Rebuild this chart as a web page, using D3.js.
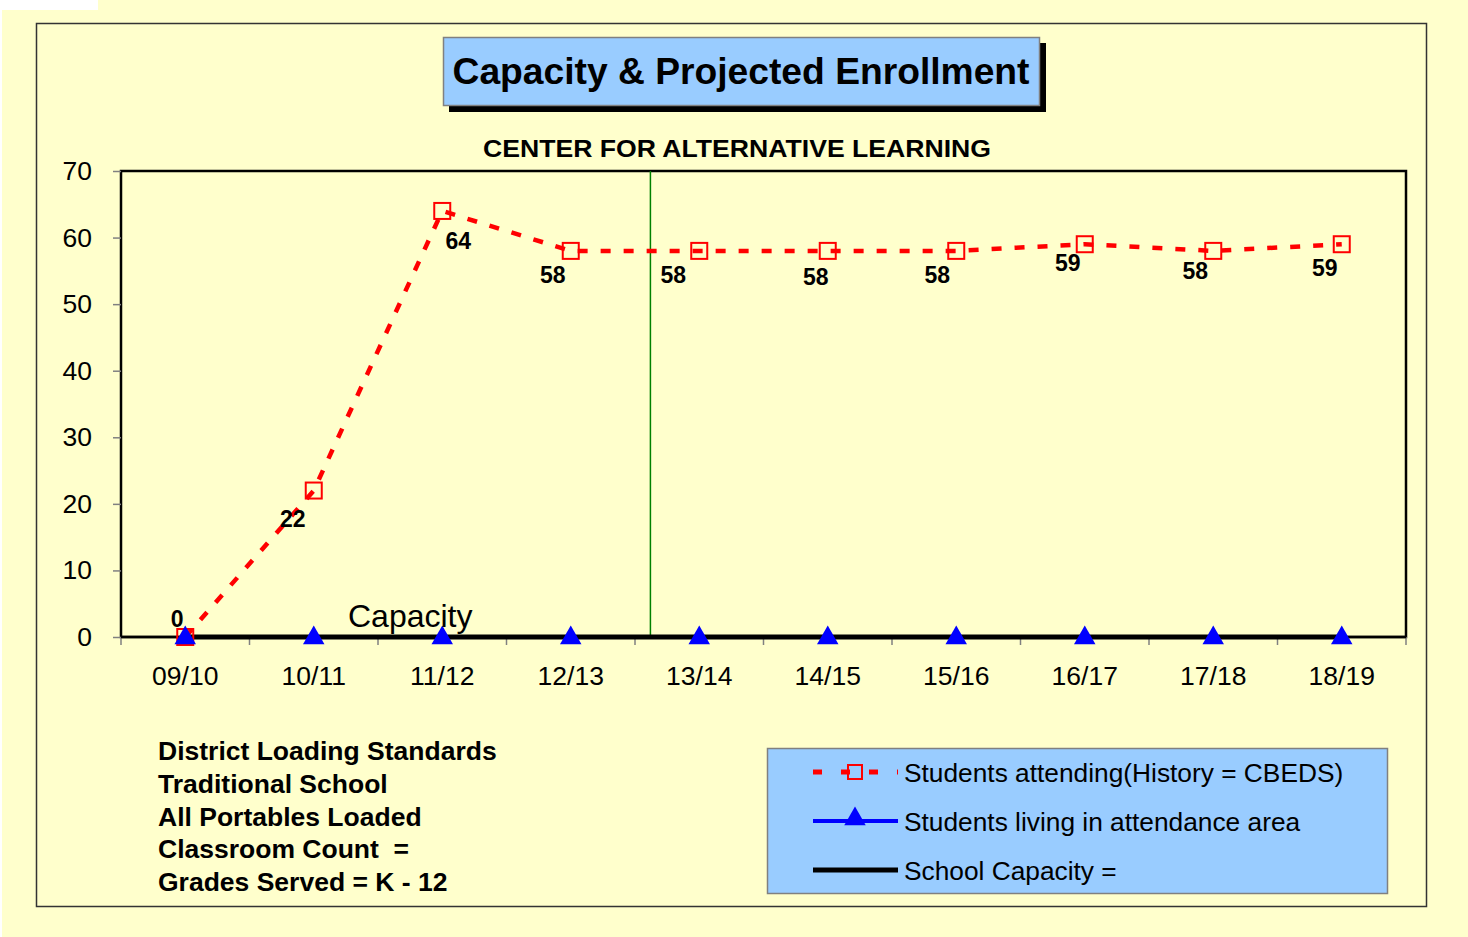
<!DOCTYPE html>
<html>
<head>
<meta charset="utf-8">
<script src="https://cdn.jsdelivr.net/npm/d3@7"></script>
<style>
  body { margin: 0; background: #ffffcc; }
  svg { display: block; font-family: "Liberation Sans", Arial, sans-serif; }
  .note { white-space: pre; }
</style>
</head>
<body>
<svg id="chart" width="1468" height="937"></svg>
<script>
var years = ['09/10', '10/11', '11/12', '12/13', '13/14', '14/15', '15/16', '16/17', '17/18', '18/19']
var attending = [0, 22, 64, 58, 58, 58, 58, 59, 58, 59]
var livingInArea = [0, 0, 0, 0, 0, 0, 0, 0, 0, 0]
var capacity = [0, 0, 0, 0, 0, 0, 0, 0, 0, 0]
var yTicks = [0, 10, 20, 30, 40, 50, 60, 70]
var notes = ['District Loading Standards', 'Traditional School', 'All Portables Loaded', 'Classroom Count  =', 'Grades Served = K - 12']
var legendItems = ['Students attending(History = CBEDS)', 'Students living in attendance area', 'School Capacity =']

// where each data label sits relative to its point (dx, dy of the text centre)
var labelShift = [[-8, -18], [-21, 28], [16, 30], [-18, 24], [-26, 24], [-12, 26], [-19, 24], [-17, 18], [-18, 20], [-17, 23]]

var svg = d3.select('#chart')

// page background + white corner patch
svg.append('rect').attr('width', 1468).attr('height', 937).attr('fill', '#ffffcc')
svg.append('rect').attr('width', 98).attr('height', 10).attr('fill', '#ffffff')
svg.append('rect').attr('width', 2).attr('height', 937).attr('fill', '#ffffff')

// outer frame
svg.append('rect')
  .attr('x', 36.5).attr('y', 23.5).attr('width', 1390).attr('height', 883)
  .attr('fill', 'none').attr('stroke', '#333333').attr('stroke-width', 1.5)

// title box with shadow
svg.append('rect').attr('x', 449).attr('y', 43).attr('width', 597).attr('height', 69).attr('fill', '#000')
svg.append('rect').attr('x', 443.5).attr('y', 37.5).attr('width', 596).attr('height', 68)
  .attr('fill', '#99ccff').attr('stroke', '#808080').attr('stroke-width', 1.5)
svg.append('text').attr('x', 741).attr('y', 84).attr('text-anchor', 'middle')
  .attr('font-size', 36).attr('font-weight', 'bold')
  .attr('textLength', 577).attr('lengthAdjust', 'spacingAndGlyphs')
  .text('Capacity & Projected Enrollment')

svg.append('text').attr('x', 737).attr('y', 157).attr('text-anchor', 'middle')
  .attr('font-size', 24).attr('font-weight', 'bold')
  .attr('textLength', 508).attr('lengthAdjust', 'spacingAndGlyphs')
  .text('CENTER FOR ALTERNATIVE LEARNING')

var plotLeft = 121, plotRight = 1406, plotTop = 171, plotBottom = 637

var x = d3.scaleBand().domain(years).range([plotLeft, plotRight])
var y = d3.scaleLinear().domain([0, 70]).range([plotBottom, plotTop])
var cx = function(d, i) { return x(years[i]) + x.bandwidth() / 2 }

var g = svg.append('g')

// plot frame
g.append('rect').attr('x', plotLeft).attr('y', plotTop).attr('width', plotRight - plotLeft).attr('height', plotBottom - plotTop)
  .attr('fill', 'none').attr('stroke', '#000').attr('stroke-width', 2.5)

// y axis
var yAxis = g.append('g').attr('transform', 'translate(' + plotLeft + ',0)')
  .call(d3.axisLeft(y).tickValues(yTicks).tickSize(8).tickPadding(21))
yAxis.select('.domain').remove()
yAxis.selectAll('line').attr('stroke', '#808080').attr('stroke-width', 1.5)
yAxis.selectAll('text').attr('font-size', 26.5).attr('font-family', 'Liberation Sans, Arial, sans-serif').attr('fill', '#000')

// x axis: ticks at band boundaries
var xAxis = g.append('g').attr('transform', 'translate(0,' + plotBottom + ')')
  .call(d3.axisBottom(x).tickSize(0).tickPadding(29))
xAxis.select('.domain').remove()
xAxis.selectAll('text').attr('font-size', 26.5).attr('font-family', 'Liberation Sans, Arial, sans-serif').attr('fill', '#000')
var bounds = years.map(function(d) { return x(d) }).concat([plotRight])
g.selectAll('.xtick').data(bounds).enter().append('line')
  .attr('x1', function(d) { return d }).attr('x2', function(d) { return d })
  .attr('y1', plotBottom).attr('y2', plotBottom + 8)
  .attr('stroke', '#808080').attr('stroke-width', 1.5)

// green divider between history and projection
var divX = x('12/13') + x.bandwidth() * 1.12
g.append('line').attr('x1', divX).attr('x2', divX).attr('y1', plotTop).attr('y2', plotBottom)
  .attr('stroke', '#008000').attr('stroke-width', 1.5)

// students living in area (blue)
var line = d3.line().x(cx).y(function(d) { return y(d) })
g.append('path').datum(livingInArea).attr('d', line)
  .attr('fill', 'none').attr('stroke', '#0000ff').attr('stroke-width', 3)

// capacity (black)
g.append('line').attr('x1', plotLeft).attr('x2', plotRight).attr('y1', plotBottom).attr('y2', plotBottom)
  .attr('stroke', '#000').attr('stroke-width', 2.5)
g.append('path').datum(capacity).attr('d', line)
  .attr('fill', 'none').attr('stroke', '#000').attr('stroke-width', 5)

// attending (red dashed)
g.append('path').datum(attending).attr('d', line)
  .attr('fill', 'none').attr('stroke', '#ff0000').attr('stroke-width', 4.5)
  .attr('stroke-dasharray', '10,13')
g.selectAll('.sq').data(attending).enter().append('rect')
  .attr('x', function(d, i) { return cx(d, i) - 8 })
  .attr('y', function(d) { return y(d) - 8 })
  .attr('width', 16).attr('height', 16)
  .attr('fill', 'none').attr('stroke', '#ff0000').attr('stroke-width', 2)

// triangles
var tri = d3.symbol().type(d3.symbolTriangle).size(200)
g.selectAll('.tri').data(livingInArea).enter().append('path')
  .attr('d', tri)
  .attr('transform', function(d, i) { return 'translate(' + cx(d, i) + ',' + (y(d) + 1) + ')' })
  .attr('fill', '#0000ff')

// data labels
g.selectAll('.lbl').data(attending).enter().append('text')
  .attr('x', function(d, i) { return cx(d, i) + labelShift[i][0] })
  .attr('y', function(d, i) { return y(d) + labelShift[i][1] })
  .attr('dy', '0.36em')
  .attr('text-anchor', 'middle').attr('font-size', 23).attr('font-weight', 'bold')
  .text(function(d) { return d })

g.append('text').attr('x', 348).attr('y', 627).attr('font-size', 32).text('Capacity')

// notes
svg.selectAll('.note').data(notes).enter().append('text')
  .attr('class', 'note')
  .attr('x', 158).attr('y', function(d, i) { return 760 + i * 32.8 })
  .attr('font-size', 26.5).attr('font-weight', 'bold').text(function(d) { return d })

// legend
var lg = svg.append('g')
lg.append('rect').attr('x', 767.5).attr('y', 748.5).attr('width', 620).attr('height', 145)
  .attr('fill', '#99ccff').attr('stroke', '#808080').attr('stroke-width', 1.5)
var ly = [772, 821, 870]
lg.append('line').attr('x1', 813).attr('x2', 898).attr('y1', ly[0]).attr('y2', ly[0])
  .attr('stroke', '#ff0000').attr('stroke-width', 5).attr('stroke-dasharray', '9,19')
lg.append('rect').attr('x', 848).attr('y', ly[0] - 7).attr('width', 14).attr('height', 14)
  .attr('fill', 'none').attr('stroke', '#ff0000').attr('stroke-width', 2)
lg.append('line').attr('x1', 813).attr('x2', 898).attr('y1', ly[1]).attr('y2', ly[1])
  .attr('stroke', '#0000ff').attr('stroke-width', 4)
lg.append('path').attr('d', tri).attr('transform', 'translate(855,' + (ly[1] - 2) + ')').attr('fill', '#0000ff')
lg.append('line').attr('x1', 813).attr('x2', 898).attr('y1', ly[2]).attr('y2', ly[2])
  .attr('stroke', '#000').attr('stroke-width', 5)
lg.selectAll('.lt').data(legendItems).enter().append('text')
  .attr('x', 904).attr('y', function(d, i) { return ly[i] + 10 })
  .attr('font-size', 26.3).text(function(d) { return d })
</script>
</body>
</html>
